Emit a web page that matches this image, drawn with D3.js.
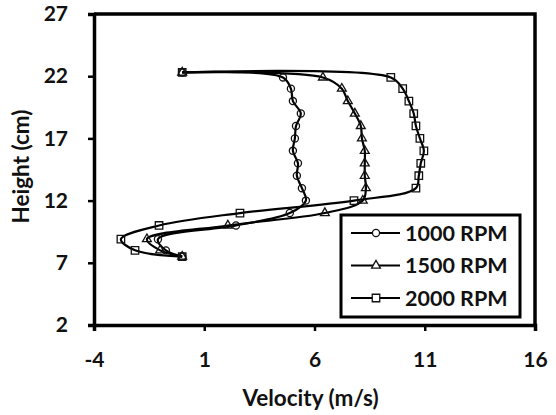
<!DOCTYPE html>
<html><head><meta charset="utf-8">
<script src="https://cdn.jsdelivr.net/npm/d3@7/dist/d3.min.js"></script>
<style>
html,body{margin:0;padding:0;background:#fff;}
svg{display:block;}
text{font-family:Lato, "Open Sans", sans-serif;fill:#111;}
</style></head>
<body>
<svg id="chart" width="556" height="415"></svg>
<script>
// Heights (cm) shared by all series
const heights = [22.3, 21.9, 21, 20, 19, 18, 17, 16, 15, 14, 13, 12, 11, 10, 8.9, 8, 7.5];
const v1000 = [0, 4.57, 4.93, 5.02, 5.38, 5.16, 5.11, 5.02, 5.25, 5.2, 5.43, 5.61, 4.88, 2.44, -1.1, -0.74, 0];
const v1500 = [0, 6.38, 7.24, 7.51, 7.83, 8.10, 8.15, 8.28, 8.28, 8.28, 8.33, 8.19, 6.47, 2.07, -1.6, -1.0, 0];
const v2000 = [0, 9.46, 10.0, 10.28, 10.5, 10.6, 10.78, 10.96, 10.82, 10.73, 10.6, 7.79, 2.62, -1.05, -2.78, -2.14, 0];
const seriesNames = ["1000 RPM", "1500 RPM", "2000 RPM"];
const xTicks = [-4, 1, 6, 11, 16];
const yTicks = [2, 7, 12, 17, 22, 27];

const svg = d3.select("#chart");
const L = 94, R = 535, T = 14, B = 325;
const x = d3.scaleLinear().domain([-4, 16]).range([L, R]);
const y = d3.scaleLinear().domain([2, 27]).range([B, T]);

const series = [
  {name: seriesNames[0], vals: v1000, sym: d3.symbolCircle, size: 40},
  {name: seriesNames[1], vals: v1500, sym: d3.symbolTriangle, size: 34},
  {name: seriesNames[2], vals: v2000, sym: d3.symbolSquare, size: 56}
];

// frame (top/right)
svg.append("path")
  .attr("d", `M${L},${T}H${R}V${B}`)
  .attr("fill", "none").attr("stroke", "#000").attr("stroke-width", 3.5);

// axes
const fmt = d => String(d);
const xAxis = svg.append("g").attr("transform", `translate(0,${B})`)
  .call(d3.axisBottom(x).tickValues(xTicks).tickSize(6).tickPadding(29).tickFormat(fmt));
const yAxis = svg.append("g").attr("transform", `translate(${L},0)`)
  .call(d3.axisLeft(y).tickValues(yTicks).tickSize(6).tickPadding(20).tickFormat(fmt));
[xAxis, yAxis].forEach(g => {
  g.select(".domain").attr("stroke", "#000").attr("stroke-width", 3.5);
  g.selectAll(".tick line").attr("stroke", "#000").attr("stroke-width", 2.5);
  g.selectAll(".tick text").attr("font-size", 21).attr("font-weight", "bold")
    .style("font-family", "Lato, sans-serif").attr("fill", "#111");
});
xAxis.selectAll(".tick text").attr("dy", "0.35em");

// lines
const line = d3.line().x(d => x(d[0])).y(d => y(d[1])).curve(d3.curveCatmullRom.alpha(0.5));
series.forEach(s => {
  const pts = s.vals.map((v, i) => [v, heights[i]]);
  svg.append("path").datum(pts).attr("d", line)
    .attr("fill", "none").attr("stroke", "#000").attr("stroke-width", 2.2);
});
series.forEach(s => {
  const pts = s.vals.map((v, i) => [v, heights[i]]);
  svg.append("g").selectAll("path").data(pts).join("path")
    .attr("transform", d => `translate(${x(d[0])},${y(d[1])})`)
    .attr("d", d3.symbol().type(s.sym).size(s.size))
    .attr("fill", "none").attr("stroke", "#111").attr("stroke-width", 1.3);
});

// axis titles
svg.append("text").attr("x", (L + R) / 2 - 4).attr("y", 406)
  .attr("text-anchor", "middle").attr("font-size", 22.5).attr("font-weight", "bold").text("Velocity (m/s)");
svg.append("text").attr("transform", `translate(29,${(T + B) / 2 - 3}) rotate(-90)`)
  .attr("text-anchor", "middle").attr("font-size", 22.5).attr("font-weight", "bold").text("Height (cm)");

// legend
const lg = svg.append("g");
lg.append("rect").attr("x", 341).attr("y", 215).attr("width", 179).attr("height", 102)
  .attr("fill", "#fff").attr("stroke", "#000").attr("stroke-width", 3);
series.forEach((s, i) => {
  const cy = 233 + i * 32.5;
  lg.append("line").attr("x1", 351).attr("x2", 400).attr("y1", cy).attr("y2", cy)
    .attr("stroke", "#000").attr("stroke-width", 2.2);
  lg.append("path").attr("transform", `translate(376,${cy})`)
    .attr("d", d3.symbol().type(s.sym).size(s.size))
    .attr("fill", "#fff").attr("stroke", "#111").attr("stroke-width", 1.3);
  lg.append("text").attr("x", 405).attr("y", cy).attr("dy", "0.36em")
    .attr("font-size", 21.5).attr("font-weight", "bold").text(s.name);
});
</script>
</body></html>
